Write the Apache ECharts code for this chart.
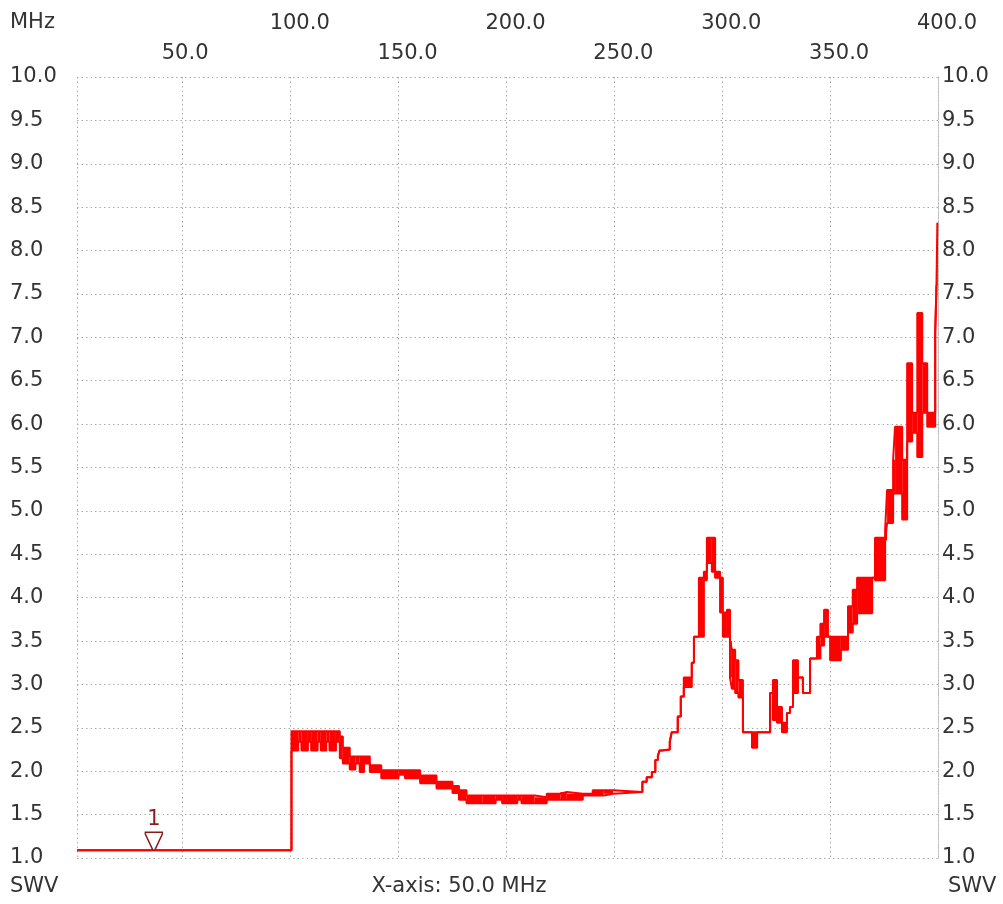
<!DOCTYPE html>
<html>
<head>
<meta charset="utf-8">
<script src="https://cdn.jsdelivr.net/npm/echarts@6/dist/echarts.min.js"></script>
<style>
html, body { margin: 0; padding: 0; background: #fff; }
#main { width: 1003px; height: 904px; }
</style>
</head>
<body>
<div id="main"></div>
<script>
// sweep data: frequency (MHz), lower and upper edge of the SWR trace at that step
var freqMHz = [1, 100.4, 103.5, 105, 108, 109.5, 112.5, 114, 116.5, 118, 121, 122.8, 124.2, 127.4, 130, 132, 134, 136.7, 142, 150,
    153, 160, 167.6, 175, 178, 181.5, 189, 195, 198, 205, 207, 213, 218.7, 225, 228, 235.4, 240, 245, 249.4, 263,
    265, 267.4, 269, 270.2, 271, 272, 275.7, 276.6, 279.4, 280.8, 282.2, 285.9, 286.9, 289.2, 291.5, 292.9, 295.2, 296.7, 299, 300.3,
    302.2, 303.6, 304.5, 306, 307.5, 309.6, 313.8, 316.2, 322.2, 323.5, 325.4, 327.7, 330, 331.4, 332.8, 335.1, 337.4, 340.7, 343.9, 345.5,
    347.2, 349, 350, 355, 358.3, 360.5, 362.5, 369.5, 370.8, 375.5, 376.4, 379.2, 380.1, 383.4, 385.7, 388, 390.4, 392.7, 395, 398.7,
    399.3, 399.7, 400];
var swrLow = [1.09, 2.24, 2.34, 2.24, 2.34, 2.24, 2.34, 2.24, 2.34, 2.24, 2.34, 2.15, 2.09, 2.02, 2.09, 1.99, 2.09, 1.99, 1.92, 1.96,
    1.92, 1.86, 1.80, 1.75, 1.67, 1.63, 1.63, 1.67, 1.63, 1.67, 1.63, 1.63, 1.67, 1.67, 1.67, 1.72, 1.72, 1.74, 1.76, 1.88,
    1.93, 1.99, 2.13, 2.18, 2.24, 2.25, 2.34, 2.45, 2.63, 2.86, 2.97, 3.25, 3.55, 3.55, 4.20, 4.40, 4.30, 4.23, 3.83, 3.55,
    3.55, 3.08, 2.95, 2.90, 2.85, 2.45, 2.27, 2.45, 2.90, 2.59, 2.56, 2.45, 2.67, 2.74, 2.90, 3.08, 2.90, 3.30, 3.30, 3.45,
    3.55, 3.55, 3.28, 3.40, 3.60, 3.70, 3.82, 4.23, 4.20, 4.66, 4.86, 5.20, 5.20, 4.90, 5.80, 5.90, 5.62, 6.13, 5.97, 7.05,
    7.60, 7.60, 7.60];
var swrHigh = [1.09, 2.46, 2.46, 2.46, 2.46, 2.46, 2.46, 2.46, 2.46, 2.46, 2.46, 2.40, 2.27, 2.17, 2.17, 2.17, 2.17, 2.07, 2.01, 2.01,
    2.01, 1.95, 1.88, 1.83, 1.78, 1.72, 1.72, 1.72, 1.72, 1.72, 1.72, 1.70, 1.74, 1.76, 1.74, 1.74, 1.78, 1.78, 1.76, 1.88,
    1.93, 1.99, 2.13, 2.18, 2.24, 2.25, 2.34, 2.45, 2.63, 2.86, 3.08, 3.25, 3.55, 4.23, 4.30, 4.69, 4.69, 4.30, 4.23, 3.83,
    3.86, 3.50, 3.40, 3.28, 3.05, 2.45, 2.45, 2.45, 2.90, 3.05, 2.74, 2.56, 2.67, 2.74, 3.28, 3.08, 2.90, 3.30, 3.55, 3.70,
    3.86, 3.55, 3.55, 3.55, 3.90, 4.09, 4.23, 4.23, 4.69, 4.78, 5.24, 5.59, 5.97, 5.59, 6.70, 6.13, 7.28, 6.70, 6.13, 7.05,
    7.60, 8.32, 8.32];

var xGridTicks = [1, 50, 100, 150, 200, 250, 300, 350, 400];
var topLabelsRow1 = [100, 200, 300, 400];
var topLabelsRow2 = [50, 150, 250, 350];
var markerName = '1';
var markerFreq = 36.6;
var markerSwr = 1.09;

var fMin = 1, fMax = 400;
var gridL = 77, gridR = 65, gridT = 77, gridB = 46;
var plotW = 1003 - gridL - gridR;
// top labels start ~21px left of their grid line
var labelShift = 21 * (fMax - fMin) / plotW;

var lowData = [], highData = [], bandData = [];
for (var i = 0; i < freqMHz.length; i++) {
    lowData.push([freqMHz[i], swrLow[i]]);
    highData.push([freqMHz[i], swrHigh[i]]);
    if (i < freqMHz.length - 1 && swrHigh[i] > swrLow[i]) {
        bandData.push([freqMHz[i], freqMHz[i + 1], swrLow[i], swrHigh[i]]);
    }
}

var FONT = 'DejaVu Sans';
var TXT = '#333';
var RED = '#ff0000';
var dotted = { color: '#aaa', width: 1, type: [1.5, 3] };
var fmt1 = function (v) { return Number(v).toFixed(1); };

var myChart = echarts.init(document.getElementById('main'));

function labelAxis(values, margin) {
    return {
        type: 'value', position: 'top', gridIndex: 0,
        min: fMin + labelShift, max: fMax + labelShift,
        axisLine: { show: false }, axisTick: { show: false }, splitLine: { show: false },
        axisLabel: {
            customValues: values, align: 'left', margin: margin,
            formatter: fmt1, fontFamily: FONT, fontSize: 21, color: TXT
        }
    };
}

function textEl(str, x, y, align) {
    return {
        type: 'text', x: x, y: y, silent: true,
        style: {
            text: str, font: '21px "' + FONT + '"', fill: TXT,
            align: align, textAlign: align, verticalAlign: 'middle', textVerticalAlign: 'middle'
        }
    };
}

function stepLine(name, data, extra) {
    var s = {
        name: name, type: 'line', step: 'end', symbol: 'none', data: data, z: 3,
        lineStyle: { color: RED, width: 2 },
        itemStyle: { color: RED }
    };
    for (var k in extra) s[k] = extra[k];
    return s;
}

var option = {
    animation: false,
    backgroundColor: '#fff',
    grid: { left: gridL, right: gridR, top: gridT, bottom: gridB, containLabel: false, outerBoundsMode: 'none' },
    xAxis: [
        {
            type: 'value', position: 'bottom', min: fMin, max: fMax,
            axisLine: { show: false },
            axisTick: { show: false, customValues: xGridTicks },
            axisLabel: { show: false },
            splitLine: { show: true, lineStyle: dotted }
        },
        labelAxis(topLabelsRow1, 43),
        labelAxis(topLabelsRow2, 13)
    ],
    yAxis: [
        {
            type: 'value', position: 'left', min: 1, max: 10, interval: 0.5,
            axisLine: { show: false }, axisTick: { show: false },
            splitLine: { show: true, lineStyle: dotted },
            axisLabel: { margin: 67, align: 'left', formatter: fmt1, fontFamily: FONT, fontSize: 21, color: TXT, padding: [0, 0, 7, 0] }
        },
        {
            type: 'value', position: 'right', min: 1, max: 10, interval: 0.5,
            axisLine: { show: true, lineStyle: { color: '#bbb', width: 1, type: [1.5, 1.5] } },
            axisTick: { show: false },
            splitLine: { show: false },
            axisLabel: { margin: 4, align: 'left', formatter: fmt1, fontFamily: FONT, fontSize: 21, color: TXT, padding: [0, 0, 7, 0] }
        }
    ],
    graphic: [
        textEl('MHz', 10, 23, 'left'),
        textEl('SWV', 10, 887, 'left'),
        textEl('X-axis: 50.0 MHz', 459, 887, 'center'),
        textEl('SWV', 948, 887, 'left')
    ],
    series: [
        {
            name: 'band', type: 'custom', data: bandData, z: 2, silent: true,
            encode: { x: [0, 1], y: [2, 3] },
            renderItem: function (params, api) {
                var p0 = api.coord([api.value(0), api.value(3)]);
                var p1 = api.coord([api.value(1), api.value(2)]);
                var rect = echarts.graphic.clipRectByRect(
                    { x: p0[0], y: p0[1], width: p1[0] - p0[0], height: p1[1] - p0[1] },
                    { x: params.coordSys.x, y: params.coordSys.y, width: params.coordSys.width, height: params.coordSys.height }
                );
                return rect && { type: 'rect', shape: rect, style: { fill: RED } };
            }
        },
        stepLine('high', highData, {}),
        stepLine('low', lowData, {
            markPoint: {
                symbol: 'path://M0,0L18,0L18,2L10,18L8,18L0,2Z',
                symbolSize: [17, 18],
                symbolOffset: [0, -9],
                itemStyle: { color: '#fff', borderColor: '#8b1a1a', borderWidth: 1.5 },
                label: {
                    show: true, position: 'top', distance: 1, formatter: markerName,
                    color: '#8b1a1a', fontSize: 21, fontFamily: FONT
                },
                data: [{ coord: [markerFreq, markerSwr] }]
            }
        })
    ]
};

myChart.setOption(option);
</script>
</body>
</html>
